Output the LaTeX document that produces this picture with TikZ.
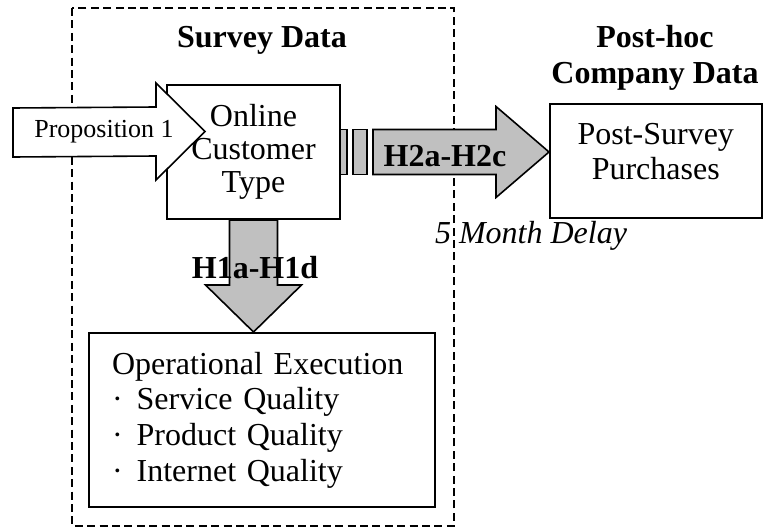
\documentclass[tikz,border=0pt]{standalone}
\usepackage{fontspec}
\setmainfont{Liberation Serif}
\usetikzlibrary{calc}
\definecolor{arrowFill}{RGB}{192,192,192}

\begin{document}
\begin{tikzpicture}[x=0.5pt, y=-0.5pt, font=\fontsize{16}{17.5}\selectfont,
  box/.style={draw, line width=1pt, fill=white, inner sep=0pt, align=center},
  blockarrow/.style={draw, line width=0.8pt, fill=arrowFill, line join=miter},
  heading/.style={font=\fontsize{16}{18}\selectfont\bfseries, align=center}]
  \useasboundingbox (0,0) rectangle (763,529);
  \draw[line width=1pt, dash pattern=on 4pt off 2.2pt] (72,8) rectangle (454,526);
  \node[heading] (survey) at (262,40.6) {Survey Data};
  \node[heading] (company) at (655,57.5) {Post-hoc\\Company Data};
  \node[box, minimum width=86.5pt, minimum height=67pt, font=\fontsize{16}{16.5}\selectfont] (online) at (253.5,152) {Online\\Customer\\Type};
  \node[box, minimum width=105.75pt, minimum height=57pt, text depth=9.5pt] (purchases) at (655.75,161) {Post-Survey\\Purchases};
  \node[box, minimum width=173pt, minimum height=87pt, inner xsep=11.5pt, text width=150pt, align=left, font=\fontsize{16}{17.8}\selectfont] (ops) at (262,420)
    {Operational Execution\\ \textperiodcentered\hspace{7pt}Service Quality\\ \textperiodcentered\hspace{7pt}Product Quality\\ \textperiodcentered\hspace{7pt}Internet Quality};
  \coordinate (h2tip) at (online.east -| purchases.west);
  \draw[blockarrow] ($(online.east)+(-1,-22.5)$) rectangle ($(online.east)+(6,22.5)$);
  \draw[blockarrow] ($(online.east)+(12,-22.5)$) rectangle ($(online.east)+(26,22.5)$);
  \draw[blockarrow] ($(online.east)+(32,-22.5)$) -- ($(h2tip)+(-53,-22.5)$) -- ($(h2tip)+(-53,-45.5)$) -- (h2tip)
    -- ($(h2tip)+(-53,45.5)$) -- ($(h2tip)+(-53,22.5)$) -- ($(online.east)+(32,22.5)$) -- cycle;
  \coordinate (h1tip) at (online.south |- ops.north);
  \draw[blockarrow] ($(online.south)+(-24,0)$) -- ($(h1tip)+(-24,-47)$) -- ($(h1tip)+(-48,-47)$) -- (h1tip)
    -- ($(h1tip)+(48,-47)$) -- ($(h1tip)+(24,-47)$) -- ($(online.south)+(24,0)$) -- cycle;
  \coordinate (proptail) at (13,132.5);
  \coordinate (proptip) at ($(online.north west)+(39,47.5)$);
  \draw[blockarrow, fill=white] ($(proptail)+(0,-24.5)$) -- ($(proptip)+(-49,-24.5)$) -- ($(proptip)+(-49,-48.5)$) -- (proptip)
    -- ($(proptip)+(-49,48.5)$) -- ($(proptip)+(-49,24.5)$) -- ($(proptail)+(0,24.5)$) -- cycle;
  \node[font=\fontsize{13}{15}\selectfont] (prop) at (104,132) {Proposition 1};
  \node[font=\fontsize{16}{17.5}\selectfont\bfseries] (h1lbl) at ($(online.south)+(1.5,48)$) {H1a-H1d};
  \node[font=\fontsize{16}{17.5}\selectfont\bfseries] (h2lbl) at ($(online.east)!0.5!(purchases.west)$) {H2a-H2c};
  \node[font=\fontsize{16}{17.5}\selectfont\itshape] (delay) at (531,235.6) {5 Month Delay};
\end{tikzpicture}
\end{document}
